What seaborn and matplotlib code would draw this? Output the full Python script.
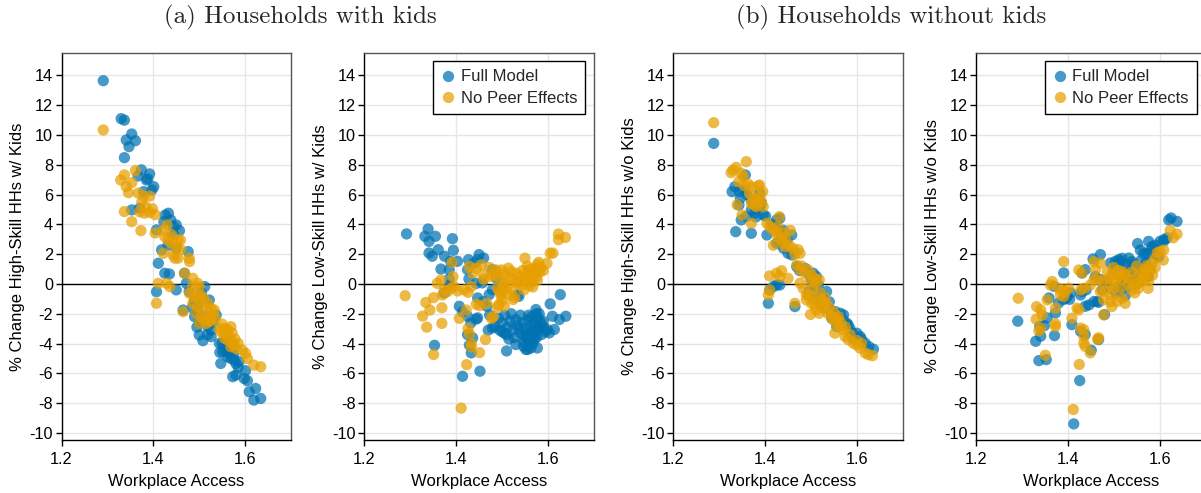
import matplotlib
matplotlib.use("Agg")
import matplotlib.pyplot as plt
import seaborn as sns
import pandas as pd

# ---------------- data ----------------
models = ["Full Model", "No Peer Effects"]
palette = {"Full Model": "#0072B2", "No Peer Effects": "#E69F00"}
titles = ["(a) Households with kids", "(b) Households without kids"]
ylabels = ["% Change High-Skill HHs w/ Kids", "% Change Low-Skill HHs w/ Kids",
           "% Change High-Skill HHs w/o Kids", "% Change Low-Skill HHs w/o Kids"]
xticks = [1.2, 1.4, 1.6]
yticks = [-10, -8, -6, -4, -2, 0, 2, 4, 6, 8, 10, 12, 14]

# Panel 1: high-skill with kids
p1_full_x = [1.291, 1.330, 1.337, 1.353, 1.341, 1.361, 1.347, 1.337, 1.374, 1.392, 1.385, 1.367, 1.401, 1.397,
             1.379, 1.388, 1.353, 1.370, 1.407, 1.426, 1.433, 1.423, 1.450, 1.457, 1.444, 1.418, 1.450, 1.476,
             1.411, 1.425, 1.435, 1.407, 1.450, 1.468, 1.472, 1.512, 1.522, 1.490, 1.500, 1.465, 1.497, 1.515,
             1.490, 1.500, 1.537, 1.519, 1.526, 1.500, 1.508, 1.526, 1.544, 1.551, 1.558, 1.565, 1.576, 1.547,
             1.569, 1.580, 1.587, 1.601, 1.573, 1.580, 1.598, 1.605, 1.609, 1.623, 1.619, 1.634, 1.558, 1.565,
             1.555, 1.562, 1.545, 1.478, 1.485, 1.438, 1.445, 1.432, 1.505, 1.495, 1.530, 1.518, 1.570, 1.575,
             1.550, 1.585]
p1_full_y = [13.65, 11.10, 11.00, 10.07, 9.67, 9.62, 9.22, 8.48, 7.66, 7.39, 6.98, 7.25, 6.53, 6.31,
             6.20, 7.05, 4.97, 5.08, 3.63, 4.63, 4.75, 4.18, 3.96, 3.58, 3.85, 2.29, 2.40, 2.17,
             1.39, 0.72, 0.67, -0.52, -0.40, 0.72, 0.04, -0.18, -1.08, -1.08, -1.30, -1.75, -1.86, -2.20,
             -2.20, -2.65, -2.09, -2.87, -3.10, -3.43, -3.81, -3.54, -3.99, -4.55, -4.44, -4.66, -5.11, -5.34,
             -5.00, -5.34, -5.22, -5.83, -6.23, -6.12, -6.35, -6.50, -7.24, -7.02, -7.80, -7.69, -3.77, -3.99,
             -4.20, -4.90, -4.60, -0.50, -1.60, 4.30, 3.30, 2.60, -0.60, -2.90, -2.60, -3.40, -4.30, -4.70,
             -4.00, -5.60]
p1_nope_x = [1.291, 1.329, 1.337, 1.341, 1.353, 1.346, 1.361, 1.367, 1.379, 1.392, 1.337, 1.353, 1.373, 1.370,
             1.380, 1.392, 1.398, 1.404, 1.404, 1.422, 1.430, 1.459, 1.425, 1.432, 1.440, 1.450, 1.454, 1.422,
             1.443, 1.447, 1.454, 1.478, 1.479, 1.411, 1.429, 1.436, 1.407, 1.465, 1.468, 1.486, 1.497, 1.500,
             1.479, 1.490, 1.497, 1.504, 1.486, 1.497, 1.508, 1.519, 1.526, 1.533, 1.494, 1.504, 1.515, 1.526,
             1.529, 1.500, 1.515, 1.522, 1.544, 1.547, 1.555, 1.562, 1.565, 1.569, 1.555, 1.562, 1.573, 1.576,
             1.580, 1.569, 1.594, 1.601, 1.605, 1.619, 1.634, 1.485, 1.510, 1.520, 1.535, 1.550, 1.558, 1.572,
             1.578, 1.585, 1.440, 1.460, 1.383, 1.375]
p1_nope_y = [10.34, 6.98, 7.32, 6.54, 6.80, 6.13, 7.61, 6.10, 5.90, 5.90, 4.86, 4.18, 3.58, 4.85,
             4.75, 4.80, 5.05, 4.65, 3.42, 3.60, 3.96, 2.95, 3.18, 2.96, 2.74, 2.51, 2.96, 2.06,
             1.95, 1.73, 1.73, 1.73, 1.50, 0.04, 0.04, -0.18, -1.30, -1.86, 0.72, 0.38, 0.04, -0.18,
             -0.63, -0.85, -0.85, -0.74, -1.30, -1.52, -1.52, -1.30, -1.64, -1.75, -1.97, -2.20, -2.31, -2.42,
             -2.09, -2.65, -2.65, -2.53, -2.98, -3.21, -3.32, -3.09, -3.54, -2.87, -3.65, -3.77, -3.99, -4.10,
             -4.33, -4.22, -4.44, -4.66, -5.00, -5.45, -5.56, -0.20, -1.00, -1.90, -2.30, -2.70, -3.00, -3.30,
             -3.70, -4.00, 3.30, 2.30, 5.20, 5.50]

# Panel 2: low-skill with kids
p2_full_x = [1.292, 1.339, 1.332, 1.341, 1.355, 1.341, 1.348, 1.361, 1.392, 1.394, 1.375, 1.388, 1.403, 1.367,
             1.385, 1.385, 1.374, 1.385, 1.407, 1.414, 1.414, 1.353, 1.427, 1.439, 1.447, 1.450, 1.460, 1.425,
             1.428, 1.444, 1.457, 1.447, 1.459, 1.425, 1.432, 1.444, 1.425, 1.436, 1.433, 1.429, 1.452, 1.447,
             1.472, 1.479, 1.467, 1.479, 1.479, 1.473, 1.470, 1.484, 1.497, 1.488, 1.510, 1.530, 1.547, 1.556,
             1.563, 1.577, 1.570, 1.599, 1.603, 1.614, 1.605, 1.610, 1.627, 1.625, 1.639, 1.534, 1.537, 1.581,
             1.574, 1.492, 1.500, 1.506, 1.512, 1.518, 1.523, 1.530, 1.535, 1.540, 1.545, 1.550, 1.553, 1.557,
             1.560, 1.563, 1.566, 1.570, 1.572, 1.578, 1.582, 1.586, 1.590, 1.495, 1.505, 1.527, 1.547, 1.560,
             1.568, 1.575, 1.585, 1.595, 1.515, 1.520, 1.540, 1.558, 1.565, 1.555, 1.575, 1.580, 1.548, 1.537,
             1.510, 1.500, 1.590, 1.567, 1.552]
p2_full_y = [3.36, 3.69, 3.20, 2.86, 3.20, 2.08, 1.86, 2.30, 3.04, 2.26, 1.86, 1.52, 1.52, 1.00,
             0.96, 0.34, -0.60, -0.07, -1.50, -1.87, -6.20, -4.12, 1.63, 1.41, 1.63, 1.97, 1.74, 0.96,
             0.34, 0.04, 0.07, -0.94, -1.19, -2.17, -2.62, -2.36, -3.40, -3.62, -4.63, -4.11, -5.86, -2.28,
             -0.72, -0.38, -1.50, 0.96, -2.95, -2.09, -3.10, -2.88, -0.16, 0.38, -4.50, -4.07, -4.19, -4.40,
             -4.30, -4.30, -3.73, -3.06, -3.29, -3.06, -1.34, -2.17, -0.72, -2.39, -2.17, -0.72, -0.83, -2.00,
             -1.72, -2.30, -2.60, -2.10, -2.90, -2.50, -3.10, -2.40, -2.80, -3.30, -2.60, -3.00, -3.60, -2.40,
             -3.20, -2.80, -3.50, -2.60, -3.00, -2.30, -2.80, -3.40, -2.90, -3.10, -3.30, -3.60, -3.90, -3.90,
             -3.30, -2.00, -2.60, -3.20, -3.70, -2.00, -2.10, -2.10, -2.20, -3.40, -3.60, -3.10, -3.50, -3.00,
             -3.40, -3.20, -2.50, -4.00, -4.40]
p2_nope_x = [1.289, 1.334, 1.343, 1.327, 1.336, 1.351, 1.351, 1.369, 1.369, 1.359, 1.367, 1.374, 1.381, 1.389,
             1.396, 1.403, 1.393, 1.370, 1.391, 1.418, 1.426, 1.433, 1.429, 1.436, 1.444, 1.455, 1.459, 1.407,
             1.422, 1.426, 1.429, 1.433, 1.433, 1.423, 1.411, 1.444, 1.451, 1.467, 1.451, 1.464, 1.477, 1.481,
             1.473, 1.488, 1.499, 1.506, 1.514, 1.521, 1.532, 1.535, 1.490, 1.495, 1.498, 1.500, 1.493, 1.505,
             1.510, 1.517, 1.524, 1.505, 1.490, 1.532, 1.542, 1.550, 1.553, 1.557, 1.560, 1.567, 1.570, 1.573,
             1.577, 1.577, 1.567, 1.550, 1.598, 1.605, 1.611, 1.623, 1.623, 1.638, 1.580, 1.585, 1.590, 1.460,
             1.475, 1.480, 1.495, 1.503, 1.515, 1.520, 1.525, 1.528, 1.540, 1.545, 1.548, 1.555, 1.562, 1.575,
             1.582, 1.563, 1.500, 1.490, 1.560]
p2_nope_y = [-0.79, -1.24, -1.75, -2.16, -2.90, -0.92, -4.74, -1.60, -2.65, 0.04, 0.27, -0.40, -0.52, -0.29,
             -0.18, -0.47, 0.49, -0.74, 1.45, -0.40, -0.56, -0.18, 1.17, 0.72, 1.06, 1.28, 0.61, -2.31,
             -1.75, -2.99, -3.33, -4.00, -4.22, -5.42, -8.34, -1.37, -1.46, -1.30, -4.61, -3.73, -2.31, -2.20,
             1.10, 0.94, 0.94, 0.61, 1.06, 0.83, 0.72, 0.16, -0.30, -0.55, -0.80, -1.10, -1.40, 0.05,
             -0.30, -0.75, -1.05, -1.50, -1.55, 0.05, -0.10, 0.20, 0.55, 0.90, 0.35, 0.15, 0.70, 1.00,
             1.30, 0.25, -0.20, 1.73, 1.39, 2.07, 2.07, 3.35, 2.97, 3.12, 1.45, 1.10, 0.90, 0.30,
             0.50, 0.60, 0.30, -0.20, 0.40, -0.40, 0.30, -0.90, 0.50, 0.90, -0.40, 1.20, 0.60, 0.50,
             0.80, 1.00, -0.60, 0.70, -0.10]

# Panel 3: high-skill without kids
p3_full_x = [1.288, 1.357, 1.328, 1.334, 1.344, 1.352, 1.346, 1.343, 1.336, 1.370, 1.348, 1.359, 1.370, 1.377,
             1.381, 1.388, 1.396, 1.401, 1.370, 1.388, 1.392, 1.404, 1.425, 1.432, 1.425, 1.432, 1.458, 1.450,
             1.458, 1.410, 1.418, 1.425, 1.432, 1.407, 1.465, 1.469, 1.487, 1.494, 1.505, 1.512, 1.516, 1.534,
             1.542, 1.553, 1.564, 1.571, 1.556, 1.578, 1.581, 1.600, 1.607, 1.618, 1.626, 1.636, 1.593, 1.440,
             1.448, 1.495, 1.505, 1.520, 1.530, 1.545, 1.560, 1.440, 1.430, 1.415, 1.500, 1.510, 1.525, 1.540,
             1.550, 1.570, 1.585, 1.610, 1.590, 1.475, 1.380, 1.360]
p3_full_y = [9.44, 7.32, 6.20, 6.53, 6.20, 6.31, 5.75, 5.30, 3.51, 3.40, 4.30, 4.52, 4.97, 4.74,
             5.08, 5.19, 4.63, 4.56, 5.64, 6.09, 5.41, 3.29, 4.30, 4.41, 2.73, 2.84, 3.29, 2.06,
             1.95, -0.40, -0.18, -0.07, -0.07, -1.30, -1.52, 1.16, 1.05, 0.72, 0.72, 0.49, -0.07, -0.51,
             -1.74, -1.86, -1.97, -2.08, -2.86, -2.64, -2.75, -3.31, -3.53, -3.98, -4.21, -4.38, -3.65, 3.60,
             3.00, -0.50, -1.00, -1.30, -1.60, -2.30, -2.50, 2.40, 3.60, 4.00, 0.30, -0.30, -0.80, -1.20,
             -2.20, -2.40, -3.00, -3.70, -3.30, 0.90, 4.50, 6.00]
p3_nope_x = [1.288, 1.359, 1.330, 1.337, 1.326, 1.348, 1.352, 1.343, 1.363, 1.370, 1.385, 1.388, 1.339, 1.366,
             1.374, 1.381, 1.388, 1.392, 1.396, 1.370, 1.377, 1.350, 1.370, 1.381, 1.404, 1.410, 1.418, 1.428,
             1.431, 1.418, 1.428, 1.434, 1.438, 1.445, 1.452, 1.455, 1.472, 1.476, 1.465, 1.410, 1.425, 1.432,
             1.450, 1.436, 1.407, 1.410, 1.465, 1.469, 1.476, 1.487, 1.494, 1.501, 1.508, 1.511, 1.518, 1.476,
             1.483, 1.490, 1.494, 1.501, 1.490, 1.501, 1.508, 1.515, 1.522, 1.526, 1.533, 1.511, 1.518, 1.526,
             1.537, 1.544, 1.548, 1.555, 1.558, 1.562, 1.552, 1.570, 1.574, 1.581, 1.592, 1.599, 1.607, 1.618,
             1.625, 1.634, 1.499, 1.440, 1.445, 1.425, 1.460, 1.480, 1.500, 1.505, 1.520, 1.530, 1.540, 1.550,
             1.560, 1.565, 1.575, 1.585, 1.600, 1.610, 1.355, 1.395]
p3_nope_y = [10.83, 8.21, 7.65, 7.83, 7.47, 7.43, 7.20, 6.87, 6.71, 6.53, 6.58, 6.64, 5.32, 6.09,
             5.75, 5.64, 5.86, 5.53, 5.19, 5.41, 5.30, 4.63, 4.07, 5.19, 4.07, 3.85, 3.62, 3.85,
             4.52, 2.60, 3.20, 3.00, 2.75, 2.50, 2.60, 3.60, 2.30, 2.05, 2.00, 0.54, 0.72, 0.49,
             0.38, 0.89, -0.74, -0.40, -1.30, 1.27, 0.94, 0.72, 0.94, 0.60, 0.38, 0.05, 0.27, 0.05,
             -0.30, -0.74, -0.72, -0.85, -1.07, -1.30, -1.40, -1.20, -1.07, -1.40, -1.30, -1.74, -1.97, -1.62,
             -1.97, -2.20, -2.40, -2.62, -2.40, -2.85, -3.30, -3.07, -3.52, -3.74, -3.97, -4.09, -4.31, -4.64,
             -4.75, -4.82, -2.05, 3.40, 3.10, 3.50, 2.40, 1.20, 0.20, -0.30, -0.60, -0.90, -1.60, -1.90,
             -2.20, -2.60, -2.90, -3.40, -3.80, -4.00, 6.60, 6.20]

# Panel 4: low-skill without kids
p4_full_x = [1.291, 1.330, 1.339, 1.349, 1.341, 1.337, 1.353, 1.355, 1.371, 1.373, 1.359, 1.370, 1.380, 1.391,
             1.391, 1.399, 1.406, 1.409, 1.426, 1.413, 1.428, 1.438, 1.438, 1.451, 1.438, 1.431, 1.455, 1.471,
             1.467, 1.480, 1.467, 1.493, 1.504, 1.511, 1.514, 1.533, 1.552, 1.576, 1.587, 1.572, 1.594, 1.601,
             1.609, 1.616, 1.625, 1.638, 1.620, 1.395, 1.404, 1.428, 1.431, 1.457, 1.464, 1.446, 1.518, 1.583,
             1.558, 1.565, 1.598, 1.500, 1.510, 1.520, 1.525, 1.535, 1.540, 1.545, 1.550, 1.555, 1.560, 1.565,
             1.570, 1.575, 1.580, 1.495, 1.505, 1.515, 1.525, 1.530, 1.485, 1.475, 1.460, 1.530, 1.540, 1.560,
             1.505, 1.575, 1.590, 1.610, 1.532, 1.515, 1.550, 1.470, 1.440]
p4_full_y = [-2.50, -3.85, -2.84, -2.80, -3.51, -5.15, -5.08, -2.28, -3.47, -1.95, -0.94, -0.16, -1.28, 0.74,
             -1.05, -0.83, -0.60, -2.73, -6.49, -9.40, -3.18, -3.40, -1.50, -4.45, 0.96, 0.74, 1.68, 1.97,
             -1.23, -2.06, -3.74, 1.41, 1.52, 1.63, 1.52, 1.74, 2.71, 2.86, 2.42, 2.08, 1.97, 2.86,
             2.97, 3.09, 4.43, 4.20, 4.30, -0.96, -1.03, -0.74, -0.51, -1.18, -1.18, -1.41, 1.72, 2.50,
             2.28, 2.06, 1.83, 0.90, 0.60, 0.20, 1.10, 0.80, 0.30, 1.30, 0.70, 1.10, 0.40, 0.90,
             1.40, 0.50, 1.00, -0.30, -0.60, -0.40, -0.80, -0.20, 0.20, -0.40, 0.50, 1.30, 1.50, 1.60,
             1.20, 2.00, 2.60, 2.90, 0.50, 0.00, 0.00, 0.30, -0.40]
p4_nope_x = [1.292, 1.332, 1.341, 1.344, 1.331, 1.341, 1.337, 1.366, 1.362, 1.355, 1.373, 1.373, 1.373, 1.409,
             1.391, 1.380, 1.388, 1.395, 1.402, 1.384, 1.391, 1.424, 1.431, 1.428, 1.435, 1.420, 1.424, 1.428,
             1.435, 1.435, 1.435, 1.438, 1.465, 1.457, 1.460, 1.471, 1.457, 1.449, 1.467, 1.471, 1.478, 1.478,
             1.486, 1.496, 1.504, 1.493, 1.500, 1.496, 1.493, 1.496, 1.507, 1.518, 1.525, 1.518, 1.525, 1.532,
             1.539, 1.546, 1.553, 1.556, 1.562, 1.565, 1.569, 1.572, 1.576, 1.580, 1.583, 1.590, 1.601, 1.609,
             1.608, 1.623, 1.638, 1.630, 1.425, 1.412, 1.449, 1.351, 1.467, 1.540, 1.550, 1.510, 1.500, 1.510,
             1.515, 1.520, 1.535, 1.545, 1.555, 1.565, 1.570, 1.575, 1.585, 1.590, 1.475, 1.480, 1.490, 1.595]
p4_nope_y = [-0.96, -1.52, -1.74, -2.08, -2.37, -2.97, -3.15, 0.16, -0.07, -1.07, -1.63, -2.68, -2.86, -2.30,
             1.50, -0.29, -0.40, -0.51, -0.29, -0.74, -0.85, 0.94, 0.72, -0.40, -0.29, -1.63, -1.74, -2.97,
             -3.08, -3.53, -3.98, -4.20, -3.71, 1.50, 0.94, 1.39, 0.27, -0.07, 0.27, -0.51, -1.07, -2.08,
             0.83, 0.60, 0.27, -0.07, -0.29, -0.74, -1.18, -1.52, -1.18, -0.96, -1.30, 0.27, 0.60, 0.05,
             -0.40, -0.60, -0.30, 0.10, 0.40, 0.80, 0.60, 1.20, 0.20, 0.90, 1.35, 1.70, 2.17, 2.28,
             1.60, 3.60, 3.35, 3.10, -5.41, -8.43, -4.63, -4.79, -3.62, 0.80, 1.20, 0.90, 1.10, 0.50,
             -0.30, 0.80, 0.30, 0.00, 0.60, 0.20, 1.00, -0.30, 0.60, 1.10, 0.20, -0.50, 0.40, 2.10]

panels = [
    (p1_full_x, p1_full_y, p1_nope_x, p1_nope_y),
    (p2_full_x, p2_full_y, p2_nope_x, p2_nope_y),
    (p3_full_x, p3_full_y, p3_nope_x, p3_nope_y),
    (p4_full_x, p4_full_y, p4_nope_x, p4_nope_y),
]

# ---------------- styling ----------------
sns.set_theme(style="white")
plt.rcParams["font.family"] = ["Liberation Sans", "DejaVu Sans"]
plt.rcParams["axes.unicode_minus"] = False

W, H = 1201, 493
fig = plt.figure(figsize=(W / 100, H / 100), dpi=100)
lefts_px = [61.5, 364.3, 673.3, 976.0]
top_px, bot_px, width_px = 52.7, 440.0, 229.5

for i, (fx, fy, nx, ny) in enumerate(panels):
    ax = fig.add_axes([lefts_px[i] / W, 1 - bot_px / H, width_px / W, (bot_px - top_px) / H])
    df = pd.DataFrame({
        "Workplace Access": list(fx) + list(nx),
        "change": list(fy) + list(ny),
        "model": [models[0]] * len(fx) + [models[1]] * len(nx),
    })
    sns.scatterplot(data=df, x="Workplace Access", y="change", hue="model", hue_order=models,
                    palette=palette, s=66, alpha=0.72, linewidth=0, ax=ax,
                    legend=(i in (1, 3)), zorder=3)
    ax.axhline(0, color="black", lw=1.0, zorder=2)
    ax.set_xlim(1.2, 1.7)
    ax.set_ylim(-10.48, 15.53)
    ax.set_xticks(xticks)
    ax.set_xticklabels([f"{t:.1f}" for t in xticks])
    ax.set_yticks(yticks)
    ax.set_yticklabels([str(t) for t in yticks])
    ax.grid(True, color="#e6e6e6", alpha=1.0, lw=1.0, zorder=0)
    ax.set_axisbelow(True)
    ax.tick_params(axis="both", direction="out", length=4, width=1, color="black",
                   labelsize=11.7, labelcolor="black", left=True, bottom=True)
    ax.tick_params(axis="x", pad=5)
    ax.tick_params(axis="y", pad=2)
    for s in ("left", "bottom"):
        ax.spines[s].set_color("black")
        ax.spines[s].set_linewidth(1.0)
    for s in ("top", "right"):
        ax.spines[s].set_color("#555555")
        ax.spines[s].set_linewidth(1.0)
    ax.set_xlabel("Workplace Access", fontsize=12, color="black", labelpad=5)
    ax.set_ylabel(ylabels[i], fontsize=12, color="black", labelpad=3)
    if i in (1, 3):
        handles, labels = ax.get_legend_handles_labels()
        leg = ax.legend(handles, labels, loc="upper right", fontsize=12, frameon=True,
                        fancybox=False, framealpha=1, edgecolor="black", borderpad=0.5,
                        handletextpad=0.35, labelspacing=0.4, handlelength=0.8,
                        borderaxespad=0.5, title=None)
        leg.get_frame().set_linewidth(1.0)

fig.text(300 / W, 1 - 17 / H, titles[0], family="cmr10", fontsize=18, ha="center", va="center")
fig.text(891 / W, 1 - 17 / H, titles[1], family="cmr10", fontsize=18, ha="center", va="center")

fig.savefig("out.png", dpi=100)
